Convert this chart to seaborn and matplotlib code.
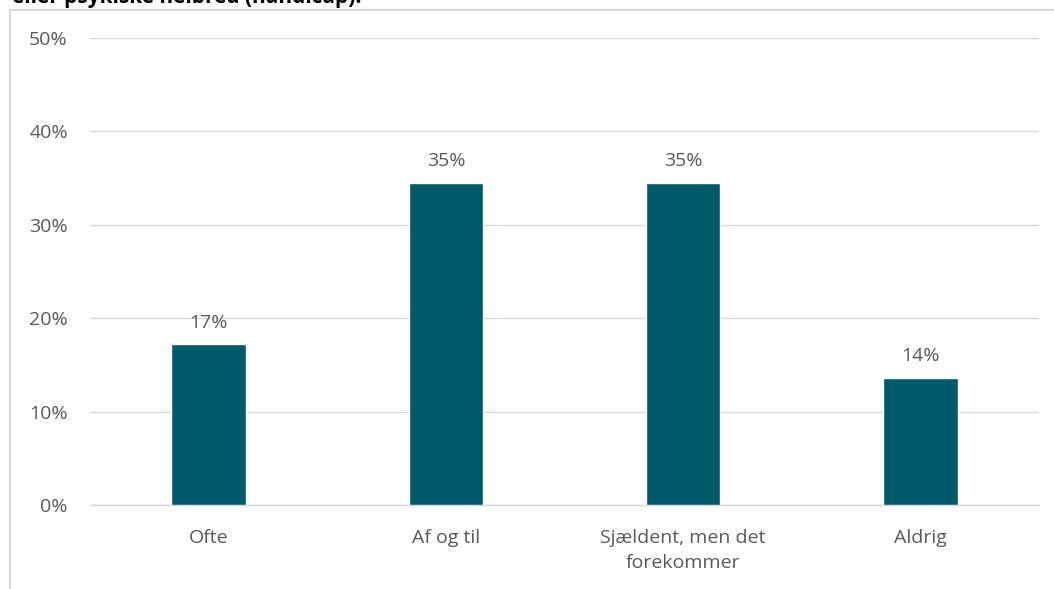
import matplotlib
matplotlib.use("Agg")
import matplotlib.pyplot as plt
from matplotlib.lines import Line2D
from matplotlib.ticker import PercentFormatter
import seaborn as sns
import pandas as pd

categories = ["Ofte", "Af og til", "Sjældent, men det\nforekommer", "Aldrig"]
values = [0.172, 0.345, 0.345, 0.136]
labels = ["17%", "35%", "35%", "14%"]
title = "eller psykiske helbred (handicap)."

bar_color = "#005A6A"
text_color = "#595959"
grid_color = "#D9D9D9"

sns.set_theme(style="white")
plt.rcParams["font.family"] = ["Open Sans", "DejaVu Sans"]

W, H = 1054, 589
fig = plt.figure(figsize=(W / 100, H / 100), dpi=100)
ax = fig.add_axes([90 / W, 84 / H, (1039 - 90) / W, (505 - 38) / H])

df = pd.DataFrame({"cat": categories, "val": values})
sns.barplot(data=df, x="cat", y="val", color=bar_color, width=0.315,
            saturation=1, ax=ax, zorder=3)

ax.set_ylim(0, 0.5)
ax.set_yticks([0, 0.1, 0.2, 0.3, 0.4, 0.5])
ax.yaxis.set_major_formatter(PercentFormatter(1.0, decimals=0))
ax.grid(axis="y", color=grid_color, linewidth=1, zorder=0)
ax.set_axisbelow(True)
for s in ["top", "right", "left"]:
    ax.spines[s].set_visible(False)
ax.spines["bottom"].set_color(grid_color)
ax.spines["bottom"].set_linewidth(1)
ax.set_xlabel("")
ax.set_ylabel("")
ax.tick_params(axis="both", length=0, labelsize=14, labelcolor=text_color)
ax.tick_params(axis="y", pad=16)
ax.tick_params(axis="x", pad=17)
for t in ax.get_xticklabels():
    t.set_linespacing(1.55)

for i, (v, lab) in enumerate(zip(values, labels)):
    ax.annotate(lab, (i, v), xytext=(0, 9), textcoords="offset points",
                ha="center", va="bottom", fontsize=14, color=text_color)

# chart area border (partly outside the image)
fig.add_artist(Line2D([10 / W, 10 / W], [0, 1 - 10 / H], transform=fig.transFigure,
                      color=grid_color, linewidth=1.5))
fig.add_artist(Line2D([10 / W, 1], [1 - 10 / H, 1 - 10 / H], transform=fig.transFigure,
                      color=grid_color, linewidth=1.5))

# title, cut off at the top edge as in the source
fig.text(12 / W, 1 - 3 / H, title, ha="left", va="baseline", fontsize=15,
         fontweight="bold", color="black")

fig.savefig("out.png", dpi=100)
